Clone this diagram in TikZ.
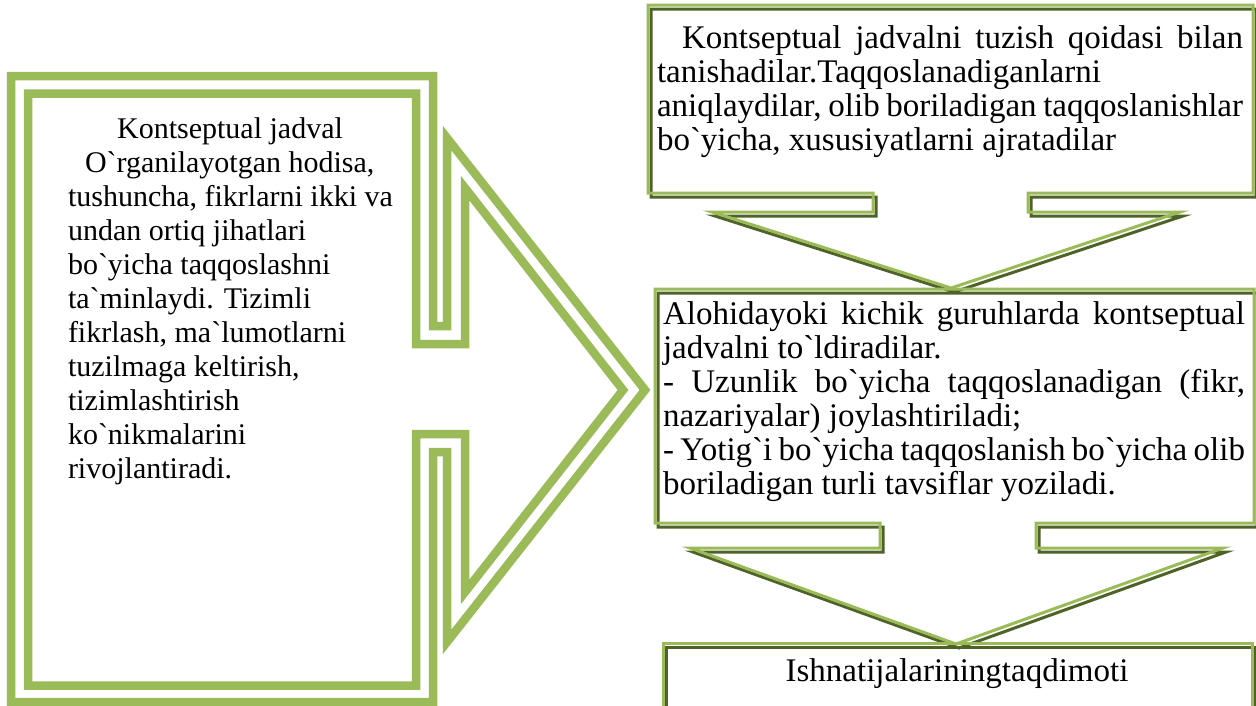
\documentclass[tikz,border=0pt]{standalone}
\usepackage{fontspec}
\newfontfamily\tnr{Liberation Serif}
\definecolor{accgreen}{HTML}{9BBB59}
\definecolor{darkgreen}{HTML}{4F6228}
\tikzset{
  calloutline/.style={draw=accgreen, line width=8.5pt, line join=miter, miter limit=10},
  boxlight/.style={draw=accgreen, line width=3pt, line join=miter, miter limit=12},
  boxdark/.style={draw=darkgreen, line width=3pt, line join=miter, miter limit=12},
  txtL/.style={inner sep=0pt, outer sep=0pt, font=\tnr\fontsize{30}{34}\selectfont, anchor=base west},
  txtLc/.style={txtL, anchor=base},
  txtR/.style={inner sep=0pt, outer sep=0pt, font=\tnr\fontsize{33}{34}\selectfont, anchor=base west},
  txtRc/.style={txtR, anchor=base},
}
\begin{document}
\begin{tikzpicture}[x=1pt,y=-1pt]
\useasboundingbox (0,0) rectangle (1256,705);
\fill[white] (0,0) rectangle (1256,705);

% left arrow callout: outer and inner outlines
\draw[calloutline] (11,76) -- (433,76) -- (433,326) -- (447,326) -- (447,138) -- (645,390)
  -- (447,642) -- (447,452) -- (433,452) -- (433,702) -- (11,702) -- cycle;
\draw[calloutline] (28,93.5) -- (416,93.5) -- (416,344) -- (465,344) -- (465,188) -- (623,390)
  -- (465,592) -- (465,434) -- (416,434) -- (416,685.5) -- (28,685.5) -- cycle;

% right boxes with shadow lines
\foreach \s/\dx/\dy in {boxdark/3/4, boxlight/0/0}{
  \draw[\s, shift={(\dx,\dy)}] (648,5) -- (1253,5) -- (1253,193) -- (1028,193) -- (1028,212)
    -- (1180,212) -- (951,288) -- (712,212) -- (873,212) -- (873,193) -- (648,193) -- cycle;
  \draw[\s, shift={(\dx,\dy)}] (655,289) -- (1254,289) -- (1254,523) -- (1036,523) -- (1036,548)
    -- (1223,548) -- (956,644) -- (690,548) -- (880,548) -- (880,523) -- (655,523) -- cycle;
  \draw[\s, shift={(\dx,\dy)}] (663,643) -- (1252,643) -- (1252,720) -- (663,720) -- cycle;
}

% left box text
\node[txtLc] (L1) at (230,138) {Kontseptual jadval};
\node[txtL] (L2) at (85,172) {O`rganilayotgan hodisa,};
\node[txtL] (L3) at (68,206) {tushuncha, fikrlarni ikki va};
\node[txtL] (L4) at (68,240) {undan ortiq jihatlari};
\node[txtL] (L5) at (68,274) {bo`yicha taqqoslashni};
\node[txtL] (L6) at (68,308) {ta`minlaydi. Tizimli};
\node[txtL] (L7) at (68,342) {fikrlash, ma`lumotlarni};
\node[txtL] (L8) at (68,376) {tuzilmaga keltirish,};
\node[txtL] (L9) at (68,410) {tizimlashtirish};
\node[txtL] (L10) at (68,444) {ko`nikmalarini};
\node[txtL] (L11) at (68,478) {rivojlantiradi.};

% top right box text
\node[txtR] (T1) at (657,48) {\makebox[586pt][s]{\hspace*{25pt}Kontseptual jadvalni tuzish qoidasi bilan}};
\node[txtR] (T2) at (657,82) {tanishadilar.Taqqoslanadiganlarni};
\node[txtR] (T3) at (657,116) {\makebox[586pt][s]{aniqlaydilar, olib boriladigan taqqoslanishlar}};
\node[txtR] (T4) at (657,150) {bo`yicha, xususiyatlarni ajratadilar};

% middle box text
\node[txtR] (M1) at (663,324) {\makebox[582pt][s]{Alohidayoki kichik guruhlarda kontseptual}};
\node[txtR] (M2) at (663,358) {jadvalni to`ldiradilar.};
\node[txtR] (M3) at (663,392) {\makebox[582pt][s]{- Uzunlik bo`yicha taqqoslanadigan (fikr,}};
\node[txtR] (M4) at (663,426) {nazariyalar) joylashtiriladi;};
\node[txtR] (M5) at (663,460) {\makebox[582pt][s]{- Yotig`i bo`yicha taqqoslanish bo`yicha olib}};
\node[txtR] (M6) at (663,494) {boriladigan turli tavsiflar yoziladi.};

% bottom box text
\node[txtRc] (B1) at (957,681) {Ishnatijalariningtaqdimoti};
\end{tikzpicture}
\end{document}
